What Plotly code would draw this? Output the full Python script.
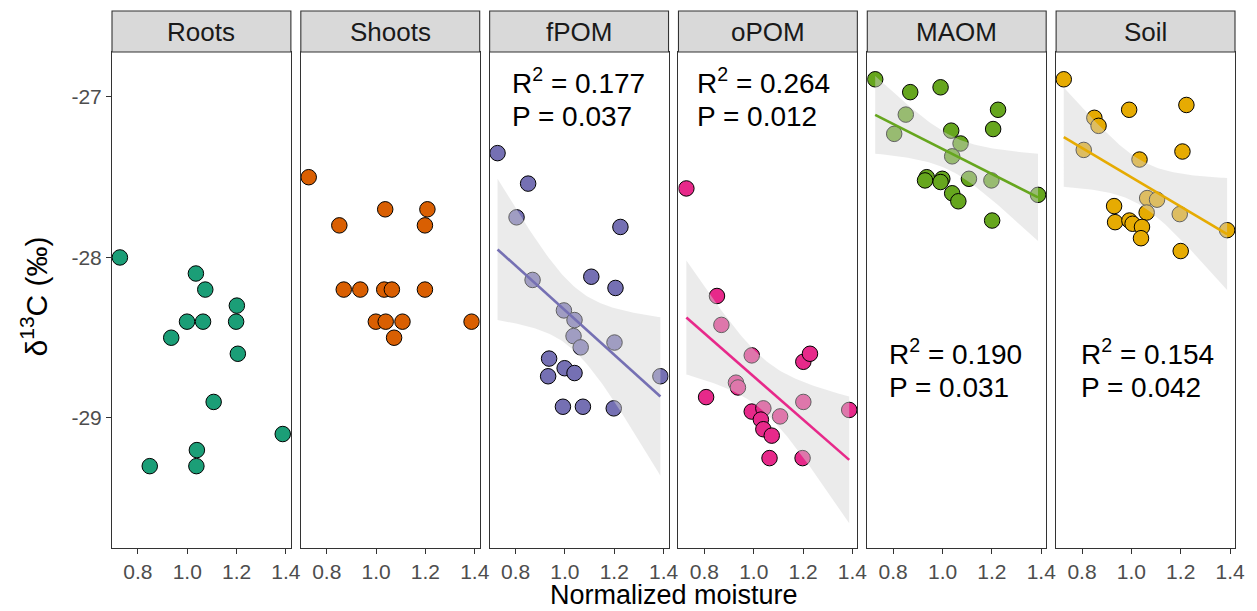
import math
import numpy as np
import plotly.graph_objects as go

# ---------------- data ----------------
panels = ["Roots", "Shoots", "fPOM", "oPOM", "MAOM", "Soil"]
colors = ["#1B9E77", "#D95F02", "#7570B3", "#E7298A", "#66A61E", "#E6AB02"]

roots_x = [0.727, 1.035, 1.073, 1.201, 0.999, 1.064, 1.198, 0.935, 1.205, 1.107, 1.387, 1.039, 0.848, 1.037]
roots_y = [-28.00, -28.10, -28.20, -28.30, -28.40, -28.40, -28.40, -28.50, -28.60, -28.90, -29.10, -29.20, -29.30, -29.30]

shoots_x = [0.727, 1.037, 1.208, 0.851, 1.198, 0.869, 0.936, 1.033, 1.064, 1.198, 0.999, 1.039, 1.107, 1.387, 1.073]
shoots_y = [-27.50, -27.70, -27.70, -27.80, -27.80, -28.20, -28.20, -28.20, -28.20, -28.20, -28.40, -28.40, -28.40, -28.40, -28.50]

fpom_x = [0.727, 0.851, 0.804, 1.225, 0.869, 1.107, 1.205, 0.996, 1.039, 1.035, 1.064, 1.201, 0.936, 0.999, 1.039, 0.932, 1.387, 0.992, 1.073, 1.198]
fpom_y = [-27.35, -27.54, -27.75, -27.81, -28.14, -28.12, -28.19, -28.33, -28.39, -28.49, -28.56, -28.53, -28.63, -28.69, -28.72, -28.74, -28.74, -28.93, -28.93, -28.94]

opom_x = [0.727, 0.851, 0.869, 0.992, 1.201, 1.228, 0.928, 0.936, 0.807, 1.201, 1.387, 0.992, 1.039, 1.029, 1.107, 1.039, 1.073, 1.064, 1.198]
opom_y = [-27.57, -28.24, -28.42, -28.61, -28.65, -28.60, -28.78, -28.81, -28.87, -28.90, -28.95, -28.96, -28.94, -29.01, -28.99, -29.07, -29.11, -29.25, -29.25]

maom_x = [0.727, 0.869, 0.992, 1.225, 0.851, 0.804, 1.035, 1.205, 1.073, 1.039, 0.936, 0.929, 0.999, 0.992, 1.107, 1.198, 1.039, 1.064, 1.387, 1.201]
maom_y = [-26.89, -26.97, -26.94, -27.08, -27.11, -27.23, -27.21, -27.20, -27.29, -27.37, -27.50, -27.52, -27.51, -27.53, -27.51, -27.52, -27.60, -27.65, -27.61, -27.77]

soil_x = [0.726, 0.991, 1.223, 0.850, 0.867, 0.807, 1.207, 1.033, 1.064, 1.104, 1.062, 1.196, 0.930, 0.934, 0.992, 1.005, 1.043, 1.039, 1.388, 1.200]
soil_y = [-26.89, -27.08, -27.05, -27.13, -27.18, -27.33, -27.34, -27.39, -27.63, -27.64, -27.72, -27.73, -27.68, -27.78, -27.77, -27.79, -27.81, -27.88, -27.83, -27.96]

x_vals = [roots_x, shoots_x, fpom_x, opom_x, maom_x, soil_x]
y_vals = [roots_y, shoots_y, fpom_y, opom_y, maom_y, soil_y]

fit_panels = ["fPOM", "oPOM", "MAOM", "Soil"]
r2_text = {"fPOM": "0.177", "oPOM": "0.264", "MAOM": "0.190", "Soil": "0.154"}
p_text = {"fPOM": "0.037", "oPOM": "0.012", "MAOM": "0.031", "Soil": "0.042"}

x_ticks = [0.8, 1.0, 1.2, 1.4]
x_ticklabels = ["0.8", "1.0", "1.2", "1.4"]
y_ticks = [-27, -28, -29]
y_ticklabels = ["-27", "-28", "-29"]

# ---------------- layout constants ----------------
W, H = 1257, 611
ML, MR, MT, MB = 112, 15, 52, 63
PW = W - ML - MR          # 1130
PH = H - MT - MB          # 496
PANEL_W, GAP = 180, 10
STRIP = 41
XR = [0.695, 1.42]
YR = [-29.81, -26.72]
FONT = "Liberation Sans, Arial, sans-serif"

stat_pos = {
    "fPOM": (0.777, -26.90, -27.12),
    "oPOM": (0.761, -26.90, -27.12),
    "MAOM": (0.775, -28.59, -28.81),
    "Soil": (0.789, -28.59, -28.81),
}


def t975(df):
    c = math.gamma((df + 1) / 2) / (math.sqrt(df * math.pi) * math.gamma(df / 2))
    ts = np.linspace(0, 6, 60001)
    pdf = c * (1 + ts ** 2 / df) ** (-(df + 1) / 2)
    cdf = 0.5 + np.concatenate([[0], np.cumsum((pdf[1:] + pdf[:-1]) / 2 * np.diff(ts))])
    return float(np.interp(0.975, cdf, ts))


def lm_band(x, y, n_grid=80):
    x = np.asarray(x, float)
    y = np.asarray(y, float)
    n = len(x)
    b1, b0 = np.polyfit(x, y, 1)
    resid = y - (b0 + b1 * x)
    s = math.sqrt(np.sum(resid ** 2) / (n - 2))
    xbar = x.mean()
    sxx = np.sum((x - xbar) ** 2)
    xg = np.linspace(x.min(), x.max(), n_grid)
    yg = b0 + b1 * xg
    se = s * np.sqrt(1 / n + (xg - xbar) ** 2 / sxx)
    t = t975(n - 2)
    return xg, yg, yg - t * se, yg + t * se


fig = go.Figure()
annotations = []
shapes = []
layout_axes = {}

for i, name in enumerate(panels):
    k = "" if i == 0 else str(i + 1)
    xa, ya = "x" + k, "y" + k
    d0 = i * (PANEL_W + GAP) / PW
    d1 = (i * (PANEL_W + GAP) + PANEL_W) / PW
    layout_axes["xaxis" + k] = dict(
        domain=[d0, d1], anchor=ya, range=XR, tickvals=x_ticks, ticktext=x_ticklabels,
        showgrid=False, zeroline=False, showline=True, mirror=True,
        linecolor="#333333", linewidth=1.1, ticks="outside", ticklen=5,
        tickcolor="#333333", tickwidth=1.1,
        tickfont=dict(family=FONT, size=21, color="#4D4D4D"))
    yax = dict(anchor=xa, range=YR, domain=[0, 1], showgrid=False, zeroline=False,
               showline=True, mirror=True, linecolor="#333333", linewidth=1.1)
    if i == 0:
        yax.update(tickvals=y_ticks, ticktext=y_ticklabels, ticks="outside", ticklen=5,
                   tickcolor="#333333", tickwidth=1.1,
                   tickfont=dict(family=FONT, size=21, color="#4D4D4D"))
    else:
        yax.update(matches="y", showticklabels=False, ticks="")
    layout_axes["yaxis" + k] = yax

    fig.add_trace(go.Scatter(
        x=x_vals[i], y=y_vals[i], xaxis=xa, yaxis=ya, mode="markers",
        marker=dict(size=15.5, color=colors[i], line=dict(color="black", width=1)),
        showlegend=False, hoverinfo="x+y"))
    if name in fit_panels:
        xg, yg, lo, hi = lm_band(x_vals[i], y_vals[i])
        fig.add_trace(go.Scatter(
            x=np.concatenate([xg, xg[::-1]]), y=np.concatenate([hi, lo[::-1]]),
            xaxis=xa, yaxis=ya, mode="lines", fill="toself",
            fillcolor="rgba(211,211,211,0.46)",
            line=dict(width=0), showlegend=False, hoverinfo="skip"))
        fig.add_trace(go.Scatter(
            x=xg, y=yg, xaxis=xa, yaxis=ya, mode="lines",
            line=dict(color=colors[i], width=2.6),
            showlegend=False, hoverinfo="skip"))

    shapes.append(dict(type="rect", xref=f"{xa} domain", yref="paper",
                       x0=0, x1=1, y0=1, y1=1 + STRIP / PH,
                       fillcolor="#D9D9D9", line=dict(color="#333333", width=1.1), layer="above"))
    annotations.append(dict(text=name, xref=f"{xa} domain", yref="paper",
                            x=0.5, y=1 + STRIP / 2 / PH, showarrow=False,
                            xanchor="center", yanchor="middle",
                            font=dict(family=FONT, size=26, color="#1A1A1A")))
    if name in stat_pos:
        sx, y1, y2 = stat_pos[name]
        annotations.append(dict(text=f"R<sup>2</sup> = {r2_text[name]}", xref=xa, yref=ya,
                                x=sx, y=y1, showarrow=False, xanchor="left", yanchor="middle",
                                font=dict(family=FONT, size=28, color="black")))
        annotations.append(dict(text=f"P = {p_text[name]}", xref=xa, yref=ya,
                                x=sx, y=y2, showarrow=False, xanchor="left", yanchor="middle",
                                font=dict(family=FONT, size=28, color="black")))

annotations.append(dict(text="Normalized moisture", xref="paper", yref="paper",
                        x=0.5, y=(548 - 595) / PH, showarrow=False,
                        xanchor="center", yanchor="middle",
                        font=dict(family=FONT, size=27, color="black")))
annotations.append(dict(text="δ<sup>13</sup>C (‰)", xref="paper", yref="paper",
                        x=(34 - ML) / PW, y=(548 - 296) / PH, showarrow=False, textangle=-90,
                        xanchor="center", yanchor="middle",
                        font=dict(family=FONT, size=30, color="black")))

fig.update_layout(**layout_axes)
fig.update_layout(width=W, height=H, margin=dict(l=ML, r=MR, t=MT, b=MB),
                  paper_bgcolor="white", plot_bgcolor="white",
                  annotations=annotations, shapes=shapes, showlegend=False)

fig.write_html("out.html", config={"displayModeBar": False},
               post_script="document.body.style.margin='0px';document.body.style.overflow='hidden';")
